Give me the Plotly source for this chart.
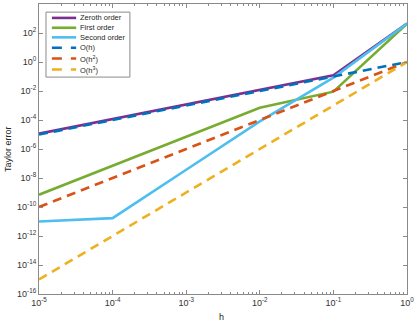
import plotly.graph_objects as go

h = [1e-5, 1e-4, 1e-3, 1e-2, 1e-1, 1e0]
zeroth = [1.15e-5, 1.15e-4, 1.15e-3, 1.2e-2, 0.12, 440]
first = [7e-10, 7e-8, 7e-6, 7e-4, 9e-3, 440]
second = [1e-11, 1.7e-11, 3.7e-8, 8e-5, 0.083, 440]
o_h = [1e-5, 1e-4, 1e-3, 1e-2, 1e-1, 1]
o_h2 = [1e-10, 1e-8, 1e-6, 1e-4, 1e-2, 1]
o_h3 = [1e-15, 1e-12, 1e-9, 1e-6, 1e-3, 1]

x_ticks = [1e-5, 1e-4, 1e-3, 1e-2, 1e-1, 1e0]
x_labels = ["10<sup>-5</sup>", "10<sup>-4</sup>", "10<sup>-3</sup>",
            "10<sup>-2</sup>", "10<sup>-1</sup>", "10<sup>0</sup>"]
y_exps = [-16, -14, -12, -10, -8, -6, -4, -2, 0, 2, 4]
y_ticks = [10.0 ** e for e in y_exps]
y_labels = ["10<sup>%d</sup>" % e for e in y_exps]

series = [
    ("Zeroth order", zeroth, "#7E2F8E", "solid"),
    ("First order", first, "#77AC30", "solid"),
    ("Second order", second, "#4DBEEE", "solid"),
    ("O(h)", o_h, "#0072BD", "9px,6px"),
    ("O(h<sup>2</sup>)", o_h2, "#D95319", "9px,6px"),
    ("O(h<sup>3</sup>)", o_h3, "#EDB120", "9px,6px"),
]

GRAY = "#8a8a8a"
TEXT = "#262626"

fig = go.Figure()
for name, y, color, dash in series:
    fig.add_trace(go.Scatter(x=h, y=y, mode="lines", name=name, showlegend=False,
                             line=dict(color=color, width=2.6, dash=dash)))

axis_common = dict(
    type="log", showgrid=False, zeroline=False, showline=True, mirror="ticks",
    linecolor=GRAY, linewidth=1, ticks="inside", ticklen=4, tickcolor=GRAY,
    tickfont=dict(size=9, color="#333333"), automargin=False,
)

fig.update_xaxes(**axis_common, range=[-5, 0], tickvals=x_ticks, ticktext=x_labels,
                 minor=dict(ticks="inside", ticklen=2, tickcolor=GRAY, dtick="D1"))
fig.update_yaxes(**axis_common, range=[-16, 4], tickvals=y_ticks, ticktext=y_labels)

# hand-drawn legend box, matching the compact MATLAB legend
shapes = [dict(type="rect", xref="paper", yref="paper", x0=0.019, x1=0.247,
               y0=0.748, y1=0.972, line=dict(color=GRAY, width=1), fillcolor="white")]
annotations = []
row_y = [0.952, 0.918, 0.885, 0.849, 0.812, 0.774]
for (name, _, color, dash), ry in zip(series, row_y):
    shapes.append(dict(type="line", xref="paper", yref="paper", x0=0.035, x1=0.101,
                       y0=ry, y1=ry,
                       line=dict(color=color, width=2.6,
                                 dash="solid" if dash == "solid" else "10px,9px")))
    annotations.append(dict(xref="paper", yref="paper", x=0.106, y=ry, text=name,
                            showarrow=False, xanchor="left", yanchor="middle",
                            font=dict(size=7.5, color=TEXT)))

annotations.append(dict(xref="paper", yref="paper", x=0.497, y=-0.08, text="h",
                        showarrow=False, xanchor="center", yanchor="middle",
                        font=dict(size=9, color=TEXT)))
annotations.append(dict(xref="paper", yref="paper", x=-0.084, y=0.5, text="Taylor error",
                        showarrow=False, textangle=-90, xanchor="center", yanchor="middle",
                        font=dict(size=9, color=TEXT)))

fig.update_layout(
    width=415, height=322,
    margin=dict(l=39, r=8, t=4, b=28),
    paper_bgcolor="white", plot_bgcolor="white",
    font=dict(family="Liberation Sans, Arial, sans-serif"),
    shapes=shapes, annotations=annotations,
    showlegend=False,
)

fig.write_html("out.html", config={"displayModeBar": False},
               post_script="document.body.style.margin='0';")
